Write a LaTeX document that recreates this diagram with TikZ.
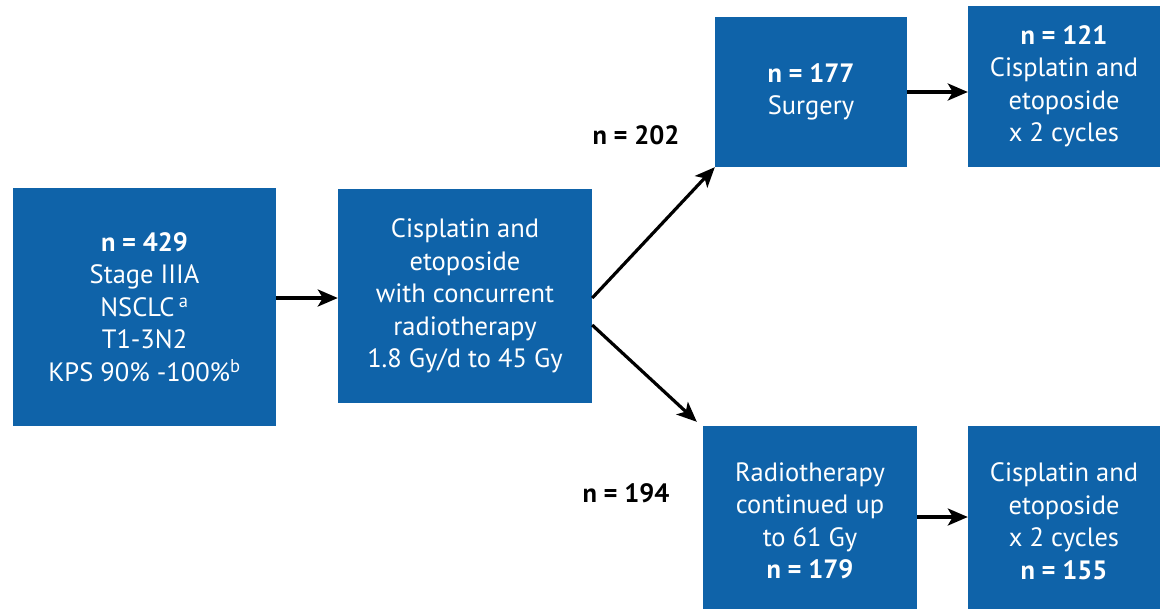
\documentclass[tikz,border=0pt]{standalone}
\usepackage{fontspec}
\setmainfont{PT Sans}
\usetikzlibrary{positioning,arrows.meta}
\definecolor{boxblue}{HTML}{0F63A9}

\begin{document}
\begin{tikzpicture}[
    x=1pt, y=-1pt,
    >={Stealth[length=20pt,width=17pt,inset=5pt]},
    box/.style={rectangle, fill=boxblue, text=white, align=center, inner sep=0pt,
        font=\fontsize{26.5}{32.5}\selectfont},
    count/.style={font=\fontsize{26.5}{32.5}\selectfont\bfseries},
    flow/.style={->, line width=3.2pt, black},
]
    \useasboundingbox (0,0) rectangle (1161,608);

    % Induction
    \node[box, minimum width=263pt, minimum height=238pt] (start) at (144.5,307)
        {\textbf{n = 429}\\Stage IIIA\\NSCLC\,\textsuperscript{a}\\T1-3N2\\KPS 90\% -100\%\textsuperscript{b}};
    \node[box, minimum width=254pt, minimum height=214pt] (chemo) at (465,296)
        {Cisplatin and\\etoposide\\with concurrent\\radiotherapy\\1.8 Gy/d to 45 Gy};

    % Surgery arm
    \node[box, minimum width=192pt, minimum height=150pt] (surgery) at (811,92)
        {\textbf{n = 177}\\Surgery};
    \node[box, minimum width=192pt, minimum height=161pt] (adjuvant1) at (1064,86.5)
        {\textbf{n = 121}\\Cisplatin and\\etoposide\\x 2 cycles};

    % Radiotherapy arm
    \node[box, minimum width=214pt, minimum height=190pt] (radio) at (810,521)
        {Radiotherapy\\continued up\\to 61 Gy\\\textbf{n = 179}};
    \node[box, minimum width=192pt, minimum height=190pt] (adjuvant2) at (1064,521)
        {Cisplatin and\\etoposide\\x 2 cycles\\\textbf{n = 155}};

    % Group sizes
    \node[count] (n202) at (636,135) {n = 202};
    \node[count] (n194) at (626,493) {n = 194};

    % Connections
    \draw[flow] ([yshift=9pt]start.east) -- ([yshift=-2pt]chemo.west);
    \draw[flow] ([yshift=-2pt]chemo.east) -- (surgery.south west);
    \draw[flow] ([yshift=-29pt]chemo.east) -- ([xshift=-6pt,yshift=4pt]radio.north west);
    \draw[flow] (surgery.east) -- (adjuvant1.west |- surgery.east);
    \draw[flow] ([yshift=4pt]radio.east) -- ([yshift=4pt]adjuvant2.west);
\end{tikzpicture}
\end{document}
